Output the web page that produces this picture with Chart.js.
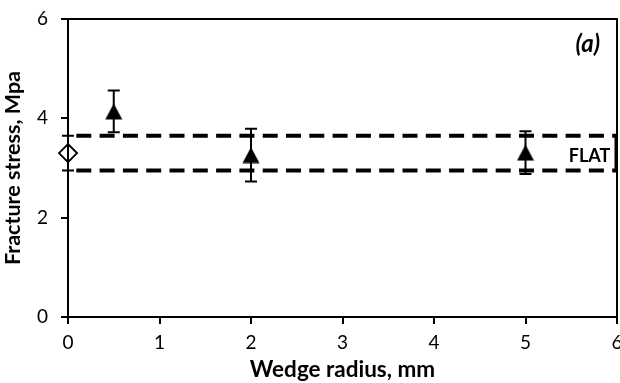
<!DOCTYPE html>
<html><head><meta charset="utf-8">
<script src="https://cdn.jsdelivr.net/npm/chart.js@4"></script>
<style>html,body{margin:0;padding:0;background:#fff}#wrap{width:620px;height:383px}</style>
</head><body><div id="wrap"><canvas id="c" width="620" height="383"></canvas></div>
<script>
// ---- data ----
const wedgeRadius = [0.5, 2, 5];
const wedgeStress = [4.14, 3.26, 3.31];
const wedgeSD = [0.42, 0.53, 0.43];
const flatRadius = [0];
const flatStress = [3.30];
const flatSD = [0.35];
const flatBand = [2.95, 3.65];
const xRange = [0, 6];
const yRange = [0, 6];
const xTitle = 'Wedge radius, mm';
const yTitle = 'Fracture stress, Mpa';
const panelLabel = '(a)';
const bandLabel = 'FLAT';

const FONT = 'Lato';

function triImg(){
  const c = document.createElement('canvas'); c.width = 18; c.height = 17;
  const g = c.getContext('2d');
  g.fillStyle = '#000';
  g.beginPath(); g.moveTo(9, 0.5); g.lineTo(17.5, 16.5); g.lineTo(0.5, 16.5); g.closePath(); g.fill();
  return c;
}
const tri = triImg();

const wedgePts = wedgeRadius.map((x, i) => ({x, y: wedgeStress[i], sd: wedgeSD[i]}));
const flatPts = flatRadius.map((x, i) => ({x, y: flatStress[i], sd: flatSD[i]}));

const errorBars = {
  id: 'errorBars',
  beforeDatasetsDraw(chart){
    const ctx = chart.ctx, xs = chart.scales.x, ys = chart.scales.y;
    ctx.save();
    ctx.strokeStyle = '#000'; ctx.lineWidth = 2;
    [...wedgePts, ...flatPts].forEach(p => {
      const px = xs.getPixelForValue(p.x);
      const top = ys.getPixelForValue(p.y + p.sd), bot = ys.getPixelForValue(p.y - p.sd);
      ctx.beginPath();
      ctx.moveTo(px, top); ctx.lineTo(px, bot);
      ctx.moveTo(px - 6, top); ctx.lineTo(px + 6, top);
      ctx.moveTo(px - 6, bot); ctx.lineTo(px + 6, bot);
      ctx.stroke();
    });
    const rx = xs.getPixelForValue(xRange[1]);
    ctx.lineWidth = 3;
    ctx.beginPath();
    ctx.moveTo(rx - 1, ys.getPixelForValue(flatBand[1])); ctx.lineTo(rx - 1, ys.getPixelForValue(flatBand[0]));
    ctx.stroke();
    ctx.restore();
  },
  afterDraw(chart){
    const ctx = chart.ctx, a = chart.chartArea, xs = chart.scales.x, ys = chart.scales.y;
    ctx.save();
    ctx.strokeStyle = '#000'; ctx.lineWidth = 2;
    ctx.strokeRect(a.left, a.top, a.right - a.left, a.bottom - a.top);
    ctx.fillStyle = '#000';
    ctx.textAlign = 'center'; ctx.textBaseline = 'middle';
    ctx.font = 'italic bold 24px ' + FONT;
    ctx.fillText(panelLabel, xs.getPixelForValue(5.68), ys.getPixelForValue(5.5));
    ctx.font = 'bold 18px ' + FONT;
    ctx.fillText(bandLabel, xs.getPixelForValue(5.70), ys.getPixelForValue(3.24));
    ctx.restore();
  }
};

const bandDs = v => ({
  type: 'line', data: [{x: xRange[0], y: v}, {x: xRange[1], y: v}],
  borderColor: '#000', borderWidth: 4, borderDash: [15, 8.3], borderDashOffset: 15,
  pointRadius: 0, fill: false, order: 3
});

new Chart(document.getElementById('c'), {
  type: 'scatter',
  data: {
    datasets: [
      bandDs(flatBand[1]),
      bandDs(flatBand[0]),
      {data: wedgePts, pointStyle: tri, pointRadius: 9, order: 1, clip: false},
      {data: flatPts, pointStyle: 'rectRot', pointRadius: 9, backgroundColor: '#fff', borderColor: '#000', borderWidth: 2, order: 1, clip: false}
    ]
  },
  options: {
    responsive: false, animation: false, devicePixelRatio: 1,
    layout: {autoPadding: false, padding: {top: 19, right: 3, left: 0, bottom: 0}},
    plugins: {legend: {display: false}, tooltip: {enabled: false}},
    scales: {
      x: {
        type: 'linear', min: xRange[0], max: xRange[1],
        ticks: {stepSize: 1, color: '#000', font: {family: FONT, size: 19}, padding: 7, autoSkip: false, maxRotation: 0},
        grid: {display: true, drawOnChartArea: false, drawTicks: true, tickLength: 7, color: '#000', lineWidth: 2},
        border: {display: true, color: '#000', width: 2},
        title: {display: true, text: xTitle, color: '#000', font: {family: FONT, size: 22.5, weight: 'bold'}, padding: 0},
        afterFit(s){ s.height = 66; s.paddingLeft = 0; s.paddingRight = 0; }
      },
      y: {
        type: 'linear', min: yRange[0], max: yRange[1],
        ticks: {stepSize: 2, color: '#000', font: {family: FONT, size: 19}, padding: 13},
        grid: {display: true, drawOnChartArea: false, drawTicks: true, tickLength: 7, color: '#000', lineWidth: 2},
        border: {display: true, color: '#000', width: 2},
        title: {display: true, text: yTitle, color: '#000', font: {family: FONT, size: 21.5, weight: 'bold'}, padding: {top: 0, bottom: 4}},
        afterFit(s){ s.width = 68; s.paddingTop = 0; s.paddingBottom = 0; }
      }
    }
  },
  plugins: [errorBars]
});
</script>
</body></html>
